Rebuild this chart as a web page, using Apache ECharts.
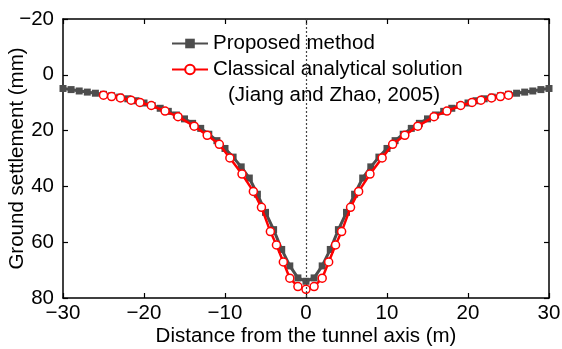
<!DOCTYPE html>
<html>
<head>
<meta charset="utf-8">
<script src="https://cdn.jsdelivr.net/npm/echarts@6/dist/echarts.min.js"></script>
<style>
html,body{margin:0;padding:0;background:#fff;}
#chart{width:562px;height:349px;}
</style>
</head>
<body>
<div id="chart"></div>
<script>
// Proposed method: x every 1 m from -30 to 30
var proposedX = [-30,-29,-28,-27,-26,-25,-24,-23,-22,-21,-20,-19,-18,-17,-16,-15,-14,-13,-12,-11,-10,-9,-8,-7,-6,-5,-4,-3,-2,-1,0,1,2,3,4,5,6,7,8,9,10,11,12,13,14,15,16,17,18,19,20,21,22,23,24,25,26,27,28,29,30];
var proposedY = [4.9,5.3,5.8,6.2,6.6,7.0,7.5,8.0,8.6,9.3,10.1,11.0,12.0,13.1,14.4,15.8,17.4,19.2,21.3,23.6,26.4,29.5,33.0,37.0,42.8,49.3,55.5,62.6,68.5,72.8,74.0,72.8,68.5,62.6,55.5,49.3,42.8,37.0,33.0,29.5,26.4,23.6,21.3,19.2,17.4,15.8,14.4,13.1,12.0,11.0,10.1,9.3,8.6,8.0,7.5,7.0,6.6,6.2,5.8,5.3,4.9];
// Classical analytical solution (Jiang and Zhao, 2005)
var classicalX = [-25,-24,-22.9,-21.6,-20.5,-19.1,-17.4,-15.8,-13.8,-12.2,-10.7,-9.4,-7.9,-6.5,-5.5,-4.4,-3.65,-2.8,-2,-1,0,1,2,2.8,3.65,4.4,5.5,6.5,7.9,9.4,10.7,12.2,13.8,15.8,17.4,19.1,20.5,21.6,22.9,24,25];
var classicalY = [7.3,7.8,8.3,9.1,9.9,11.0,13.0,15.0,18.4,21.7,24.9,29.8,35.6,41.8,47.5,56.2,61.0,67.1,72.9,75.9,76.9,75.9,72.9,67.1,61.0,56.2,47.5,41.8,35.6,29.8,24.9,21.7,18.4,15.0,13.0,11.0,9.9,9.1,8.3,7.8,7.3];
var xTicks = {min:-30, max:30, interval:10};
var yTicks = {min:-20, max:80, interval:20};
var seriesNames = ['Proposed method', 'Classical analytical solution'];
var refNote = '(Jiang and Zhao, 2005)';

function pairs(xs, ys){ return xs.map(function(x,i){ return [x, ys[i]]; }); }
var FONT = 'Liberation Sans, Arial, Helvetica, sans-serif';
function minus(v){ return String(v).replace('-', '\u2212'); }

var chart = echarts.init(document.getElementById('chart'));
var axisLine = {show:true, onZero:false, lineStyle:{color:'#000', width:1.5}};
var tick = {show:true, inside:true, length:5, lineStyle:{color:'#000', width:1.2}};
chart.setOption({
  animation:false,
  backgroundColor:'#fff',
  grid:{left:63, right:13, top:19, bottom:51, containLabel:false, outerBoundsMode:'none'},
  legend:{
    data:seriesNames, orient:'vertical', left:171, top:33, itemGap:5, padding:0,
    itemWidth:36, itemHeight:12,
    textStyle:{fontFamily:FONT, fontSize:20.5, color:'#000', padding:[0,0,0,0]}
  },
  graphic:[{type:'text', left:228, top:85, style:{text:refNote, font:'20.5px '+FONT, fill:'#000'}}],
  xAxis:[{
    type:'value', min:xTicks.min, max:xTicks.max, interval:xTicks.interval, position:'bottom',
    name:'Distance from the tunnel axis (m)', nameLocation:'middle', nameGap:28, nameMoveOverlap:false,
    nameTextStyle:{fontFamily:FONT, fontSize:20.5, color:'#000'},
    axisLine:axisLine, axisTick:tick, splitLine:{show:false},
    axisLabel:{fontFamily:FONT, fontSize:20.5, color:'#000', margin:5, formatter:minus}
  },{
    type:'value', min:xTicks.min, max:xTicks.max, interval:xTicks.interval, position:'top',
    axisLine:axisLine, axisTick:tick, splitLine:{show:false}, axisLabel:{show:false}
  }],
  yAxis:[{
    type:'value', inverse:true, min:yTicks.min, max:yTicks.max, interval:yTicks.interval, position:'left',
    name:'Ground settlement (mm)', nameLocation:'middle', nameGap:35, nameMoveOverlap:false,
    nameTextStyle:{fontFamily:FONT, fontSize:20.5, color:'#000'},
    axisLine:axisLine, axisTick:tick, splitLine:{show:false},
    axisLabel:{fontFamily:FONT, fontSize:20.5, color:'#000', margin:9, formatter:minus}
  },{
    type:'value', inverse:true, min:yTicks.min, max:yTicks.max, interval:yTicks.interval, position:'right',
    axisLine:axisLine, axisTick:tick, splitLine:{show:false}, axisLabel:{show:false}
  }],
  series:[{
    name:seriesNames[0], type:'line', data:pairs(proposedX, proposedY),
    symbol:'rect', symbolSize:7, showAllSymbol:true,
    lineStyle:{color:'#4d4d4d', width:3}, itemStyle:{color:'#4d4d4d'},
    z:2,
    markLine:{silent:true, symbol:['none','none'], label:{show:false},
      lineStyle:{color:'#444', type:[2,2], width:1.2},
      data:[{xAxis:0}]}
  },{
    name:seriesNames[1], type:'line', data:pairs(classicalX, classicalY),
    symbol:'circle', symbolSize:8, showAllSymbol:true,
    lineStyle:{color:'#ff0000', width:2.5},
    itemStyle:{color:'#ffffff', borderColor:'#ff0000', borderWidth:1.5},
    z:3
  }]
});
</script>
</body>
</html>
